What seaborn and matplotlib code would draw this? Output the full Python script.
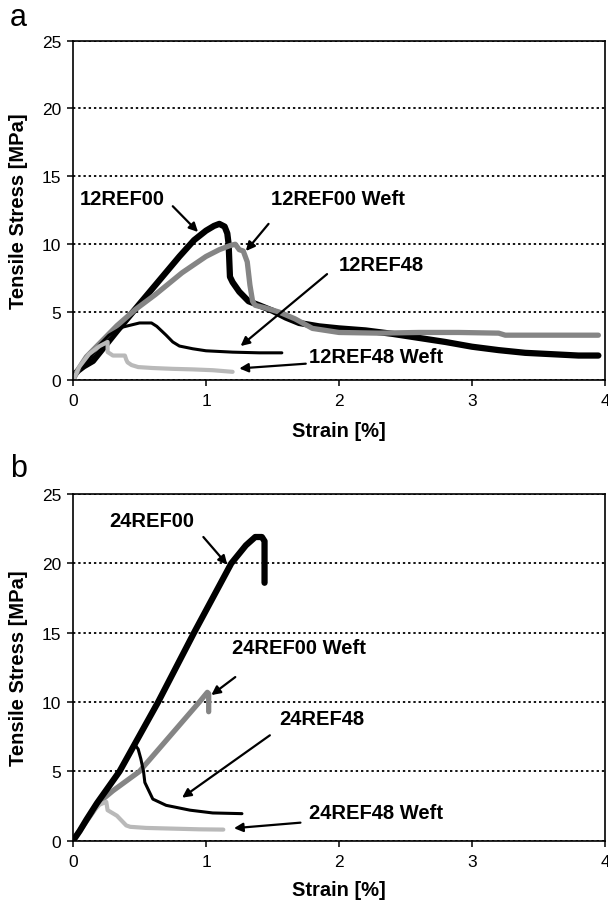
"""
Tensile stress vs strain, two panels (12-ply and 24-ply reference laminates)
"""

import numpy as np
import pandas as pd
import matplotlib
matplotlib.use("Agg")
import matplotlib.pyplot as plt
import seaborn as sns

sns.set_style("ticks")
plt.rcParams['font.family'] = ['Liberation Sans', 'DejaVu Sans']
plt.rcParams['text.color'] = 'black'
plt.rcParams['axes.labelcolor'] = 'black'
plt.rcParams['xtick.color'] = 'black'
plt.rcParams['ytick.color'] = 'black'

# ---------------------------------------------------------------------------
# Data
# ---------------------------------------------------------------------------
# panel a
a_ref00_x = [0, 0.04, 0.08, 0.15, 0.24, 0.33, 0.5, 0.62, 0.8, 0.91, 1.0, 1.06, 1.10,
             1.14, 1.16, 1.17, 1.18, 1.2, 1.25, 1.32, 1.4, 1.5, 1.6, 1.7, 1.85, 2.0,
             2.2, 2.4, 2.6, 2.8, 3.0, 3.2, 3.4, 3.6, 3.8, 3.95]
a_ref00_y = [0.3, 0.7, 1.0, 1.4, 2.5, 3.6, 5.6, 7.0, 9.1, 10.3, 11.0, 11.35, 11.5,
             11.3, 10.8, 10.0, 7.6, 7.2, 6.5, 5.8, 5.5, 5.1, 4.6, 4.2, 3.95, 3.8,
             3.65, 3.4, 3.1, 2.8, 2.45, 2.2, 2.0, 1.9, 1.8, 1.8]

a_weft00_x = [0, 0.04, 0.1, 0.18, 0.25, 0.33, 0.47, 0.62, 0.82, 1.0, 1.1, 1.18, 1.22,
              1.25, 1.28, 1.31, 1.33, 1.35, 1.37, 1.45, 1.55, 1.67, 1.8, 2.0, 2.3,
              2.6, 2.9, 3.2, 3.25, 3.5, 3.8, 3.95]
a_weft00_y = [0, 0.8, 1.7, 2.5, 3.2, 4.0, 5.2, 6.3, 7.9, 9.1, 9.6, 9.9, 10.0,
              9.6, 9.5, 8.7, 7.0, 5.8, 5.5, 5.3, 5.0, 4.5, 3.8, 3.5, 3.45,
              3.5, 3.5, 3.45, 3.3, 3.3, 3.3, 3.3]

a_ref48_x = [0, 0.05, 0.12, 0.2, 0.27, 0.375, 0.5, 0.59, 0.63, 0.7, 0.75, 0.8, 0.9,
             1.0, 1.2, 1.4, 1.57]
a_ref48_y = [0.3, 0.8, 1.5, 2.6, 3.3, 3.9, 4.2, 4.2, 3.95, 3.3, 2.8, 2.5, 2.3,
             2.15, 2.05, 2.0, 2.0]

a_weft48_x = [0, 0.05, 0.12, 0.2, 0.26, 0.26, 0.3, 0.39, 0.4, 0.41, 0.44, 0.49, 0.6,
              0.75, 0.9, 1.05, 1.2]
a_weft48_y = [0, 1.0, 1.9, 2.5, 2.8, 2.06, 1.8, 1.8, 1.5, 1.3, 1.1, 0.95, 0.88,
              0.82, 0.78, 0.72, 0.6]

# panel b
b_ref00_x = [0, 0.05, 0.1, 0.18, 0.35, 0.64, 0.91, 1.19, 1.3, 1.37, 1.42, 1.44,
             1.44, 1.44]
b_ref00_y = [0, 0.7, 1.5, 2.7, 5.0, 10.0, 15.0, 20.0, 21.3, 21.9, 21.9, 21.6,
             21.2, 18.6]

b_weft00_x = [0, 0.1, 0.2, 0.3, 0.5, 0.95, 1.01, 1.02, 1.02]
b_weft00_y = [0, 1.4, 2.8, 3.6, 5.0, 10.0, 10.7, 10.6, 9.3]

b_ref48_x = [0, 0.05, 0.1, 0.18, 0.35, 0.46, 0.49, 0.51, 0.53, 0.54, 0.6, 0.7, 0.88,
             1.05, 1.27]
b_ref48_y = [0, 0.7, 1.5, 2.7, 5.0, 7.0, 6.6, 5.9, 5.0, 4.2, 3.0, 2.55, 2.2,
             2.0, 1.95]

b_weft48_x = [0, 0.05, 0.12, 0.2, 0.25, 0.26, 0.33, 0.4, 0.43, 0.55, 0.75, 0.95, 1.13]
b_weft48_y = [0, 0.8, 1.8, 2.6, 2.8, 2.2, 1.8, 1.1, 1.0, 0.92, 0.87, 0.82, 0.8]

# label text, text centre (x, y), arrow tail, arrow head -- data coords
a_labels = ['12REF00', '12REF00 Weft', '12REF48', '12REF48 Weft']
a_text_xy = [(0.37, 13.35), (1.99, 13.35), (2.32, 8.5), (2.28, 1.75)]
a_arrow_from = [(0.75, 12.8), (1.47, 11.5), (1.91, 7.8), (1.75, 1.2)]
a_arrow_to = [(0.94, 10.9), (1.30, 9.5), (1.26, 2.5), (1.25, 0.85)]

b_labels = ['24REF00', '24REF00 Weft', '24REF48', '24REF48 Weft']
b_text_xy = [(0.59, 23.1), (1.70, 13.9), (1.87, 8.8), (2.28, 2.0)]
b_arrow_from = [(0.98, 21.9), (1.22, 11.8), (1.48, 7.6), (1.71, 1.3)]
b_arrow_to = [(1.16, 19.9), (1.04, 10.5), (0.82, 3.1), (1.21, 0.9)]

# line styles: (colour, width)
STYLES = {
    'ref00': ('#000000', 4.5),
    'weft00': ('#858585', 3.8),
    'ref48': ('#000000', 2.2),
    'weft48': ('#b9b9b9', 3.0),
}


def draw_panel(ax, curves, labels, text_xy, arrow_from, arrow_to):
    ax.yaxis.grid(True, color='black', linestyle=(0, (1.3, 1.6)), linewidth=1.3)
    ax.set_axisbelow(True)
    for key, xs, ys in curves:
        color, lw = STYLES[key]
        df = pd.DataFrame({'strain': xs, 'stress': ys})
        sns.lineplot(data=df, x='strain', y='stress', sort=False, estimator=None,
                     color=color, linewidth=lw, ax=ax, solid_capstyle='round',
                     solid_joinstyle='round')

    for lab, txy, a0, a1 in zip(labels, text_xy, arrow_from, arrow_to):
        ax.text(txy[0], txy[1], lab, ha='center', va='center', fontsize=14.5,
                fontweight='bold', color='black')
        ax.annotate('', xy=a1, xytext=a0,
                    arrowprops=dict(arrowstyle='-|>', color='black', lw=1.6,
                                    mutation_scale=13, shrinkA=0, shrinkB=0))

    ax.set_xlim(0, 4)
    ax.set_ylim(0, 25)
    ax.set_xticks([0, 1, 2, 3, 4])
    ax.set_yticks([0, 5, 10, 15, 20, 25])
    ax.tick_params(axis='both', labelsize=12.5, length=4.5, width=1.1, pad=4,
                   direction='out', colors='black')
    ax.tick_params(axis='x', pad=5)
    for sp in ax.spines.values():
        sp.set_visible(True)
        sp.set_color('black')
        sp.set_linewidth(1.2)
    ax.set_xlabel('Strain [%]', fontsize=14.5, fontweight='bold')
    ax.set_ylabel('Tensile Stress [MPa]', fontsize=14.5, fontweight='bold')
    ax.yaxis.set_label_coords(-0.085, 0.5)


fig = plt.figure(figsize=(6.08, 9.03), dpi=100)
ax_a = fig.add_axes([0.1201, 0.5781, 0.875, 0.3758])
ax_b = fig.add_axes([0.1201, 0.0679, 0.875, 0.3839])

draw_panel(ax_a,
           [('ref00', a_ref00_x, a_ref00_y), ('weft00', a_weft00_x, a_weft00_y),
            ('ref48', a_ref48_x, a_ref48_y), ('weft48', a_weft48_x, a_weft48_y)],
           a_labels, a_text_xy, a_arrow_from, a_arrow_to)
draw_panel(ax_b,
           [('weft00', b_weft00_x, b_weft00_y), ('weft48', b_weft48_x, b_weft48_y),
            ('ref00', b_ref00_x, b_ref00_y), ('ref48', b_ref48_x, b_ref48_y)],
           b_labels, b_text_xy, b_arrow_from, b_arrow_to)
ax_a.xaxis.set_label_coords(0.5, -0.121)
ax_b.xaxis.set_label_coords(0.5, -0.114)

fig.text(18 / 608, 1 - 18 / 903, 'a', fontsize=22, ha='center', va='center')
fig.text(19 / 608, 1 - 469 / 903, 'b', fontsize=22, ha='center', va='center')

fig.savefig('out.png', dpi=100, facecolor='white')
plt.close(fig)
